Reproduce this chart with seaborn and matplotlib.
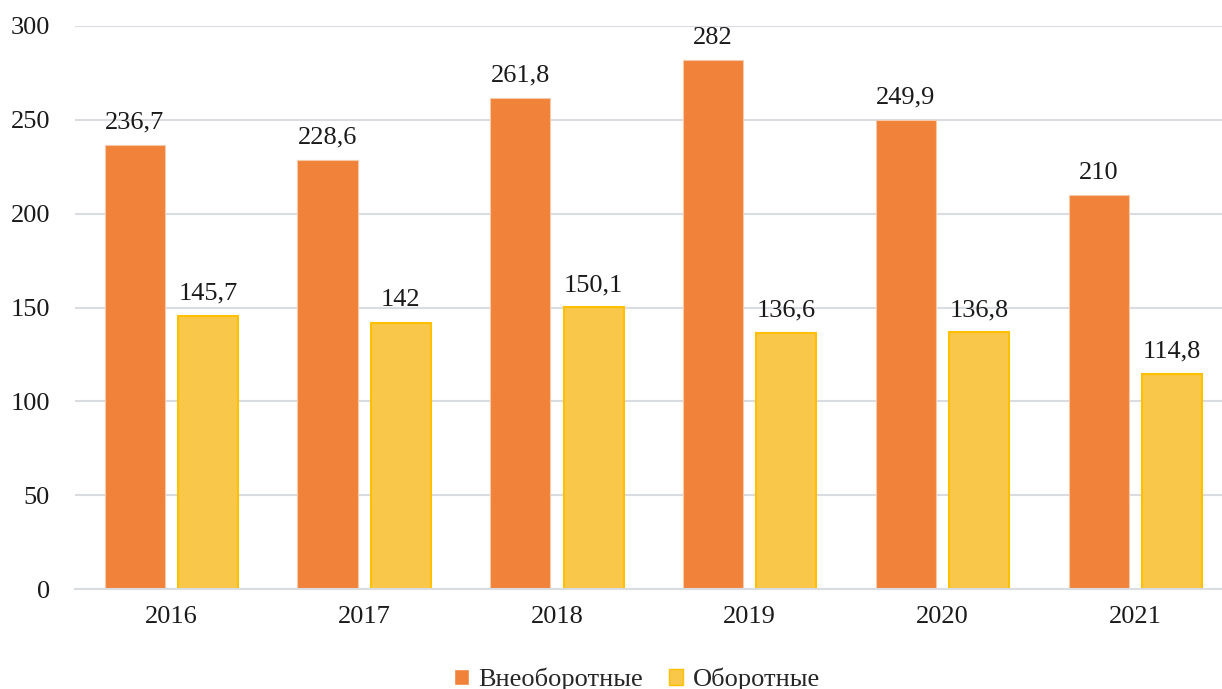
import numpy as np
import pandas as pd
import matplotlib
matplotlib.use('Agg')
import matplotlib.pyplot as plt
import seaborn as sns

years = ['2016', '2017', '2018', '2019', '2020', '2021']
non_current = [236.7, 228.6, 261.8, 282, 249.9, 210]
current = [145.7, 142, 150.1, 136.6, 136.8, 114.8]
series_names = ['Внеоборотные', 'Оборотные']
y_ticks = [0, 50, 100, 150, 200, 250, 300]

df = pd.DataFrame({
    'year': years * 2,
    'value': non_current + current,
    'kind': [series_names[0]] * len(years) + [series_names[1]] * len(years),
})

sns.set_style('white')
plt.rcParams['font.family'] = ['Liberation Serif', 'DejaVu Serif']

orange = '#F0823A'
yellow = '#F9C74A'

fig = plt.figure(figsize=(12.22, 6.89), dpi=100)
ax = fig.add_axes([75 / 1222, 1 - 589 / 689, 1 - 75 / 1222, (589 - 26) / 689])

sns.barplot(data=df, x='year', y='value', hue='kind', palette=[orange, yellow],
            width=0.76, gap=0.18, saturation=1, ax=ax, legend=True)

# edges: light on orange, gold on yellow
for bar in ax.containers[0]:
    bar.set_edgecolor('#F6C9A8')
    bar.set_linewidth(0.8)
for bar in ax.containers[1]:
    bar.set_edgecolor('#FFC000')
    bar.set_linewidth(1.5)

for cont in ax.containers:
    labels = [f'{v:g}'.replace('.', ',') for v in cont.datavalues]
    ax.bar_label(cont, labels=labels, padding=8, fontsize=19, color='#1a1a1a')

ax.set_xlim(-0.5, 5.45)
ax.set_ylim(0, 300)
ax.set_yticks(y_ticks)
ax.yaxis.grid(True, color='#D9DDE2', linewidth=1.5)
ax.set_axisbelow(True)
for s in ['top', 'right', 'left']:
    ax.spines[s].set_visible(False)
ax.spines['bottom'].set_color('#D9DDE2')
ax.spines['bottom'].set_linewidth(1.5)
ax.tick_params(axis='both', length=0, labelsize=19, colors='#1a1a1a')
ax.tick_params(axis='y', pad=18)
ax.tick_params(axis='x', pad=12)
ax.set_xlabel('')
ax.set_ylabel('')

leg = ax.legend(loc='lower center', bbox_to_anchor=(0.49, -0.2), ncol=2, frameon=False,
                fontsize=19, handlelength=0.55, handleheight=0.55, handletextpad=0.35,
                columnspacing=1.0, borderaxespad=0)
leg.get_patches()[1].set_edgecolor('#FFC000')

fig.savefig('out.png', dpi=100, facecolor='white')
